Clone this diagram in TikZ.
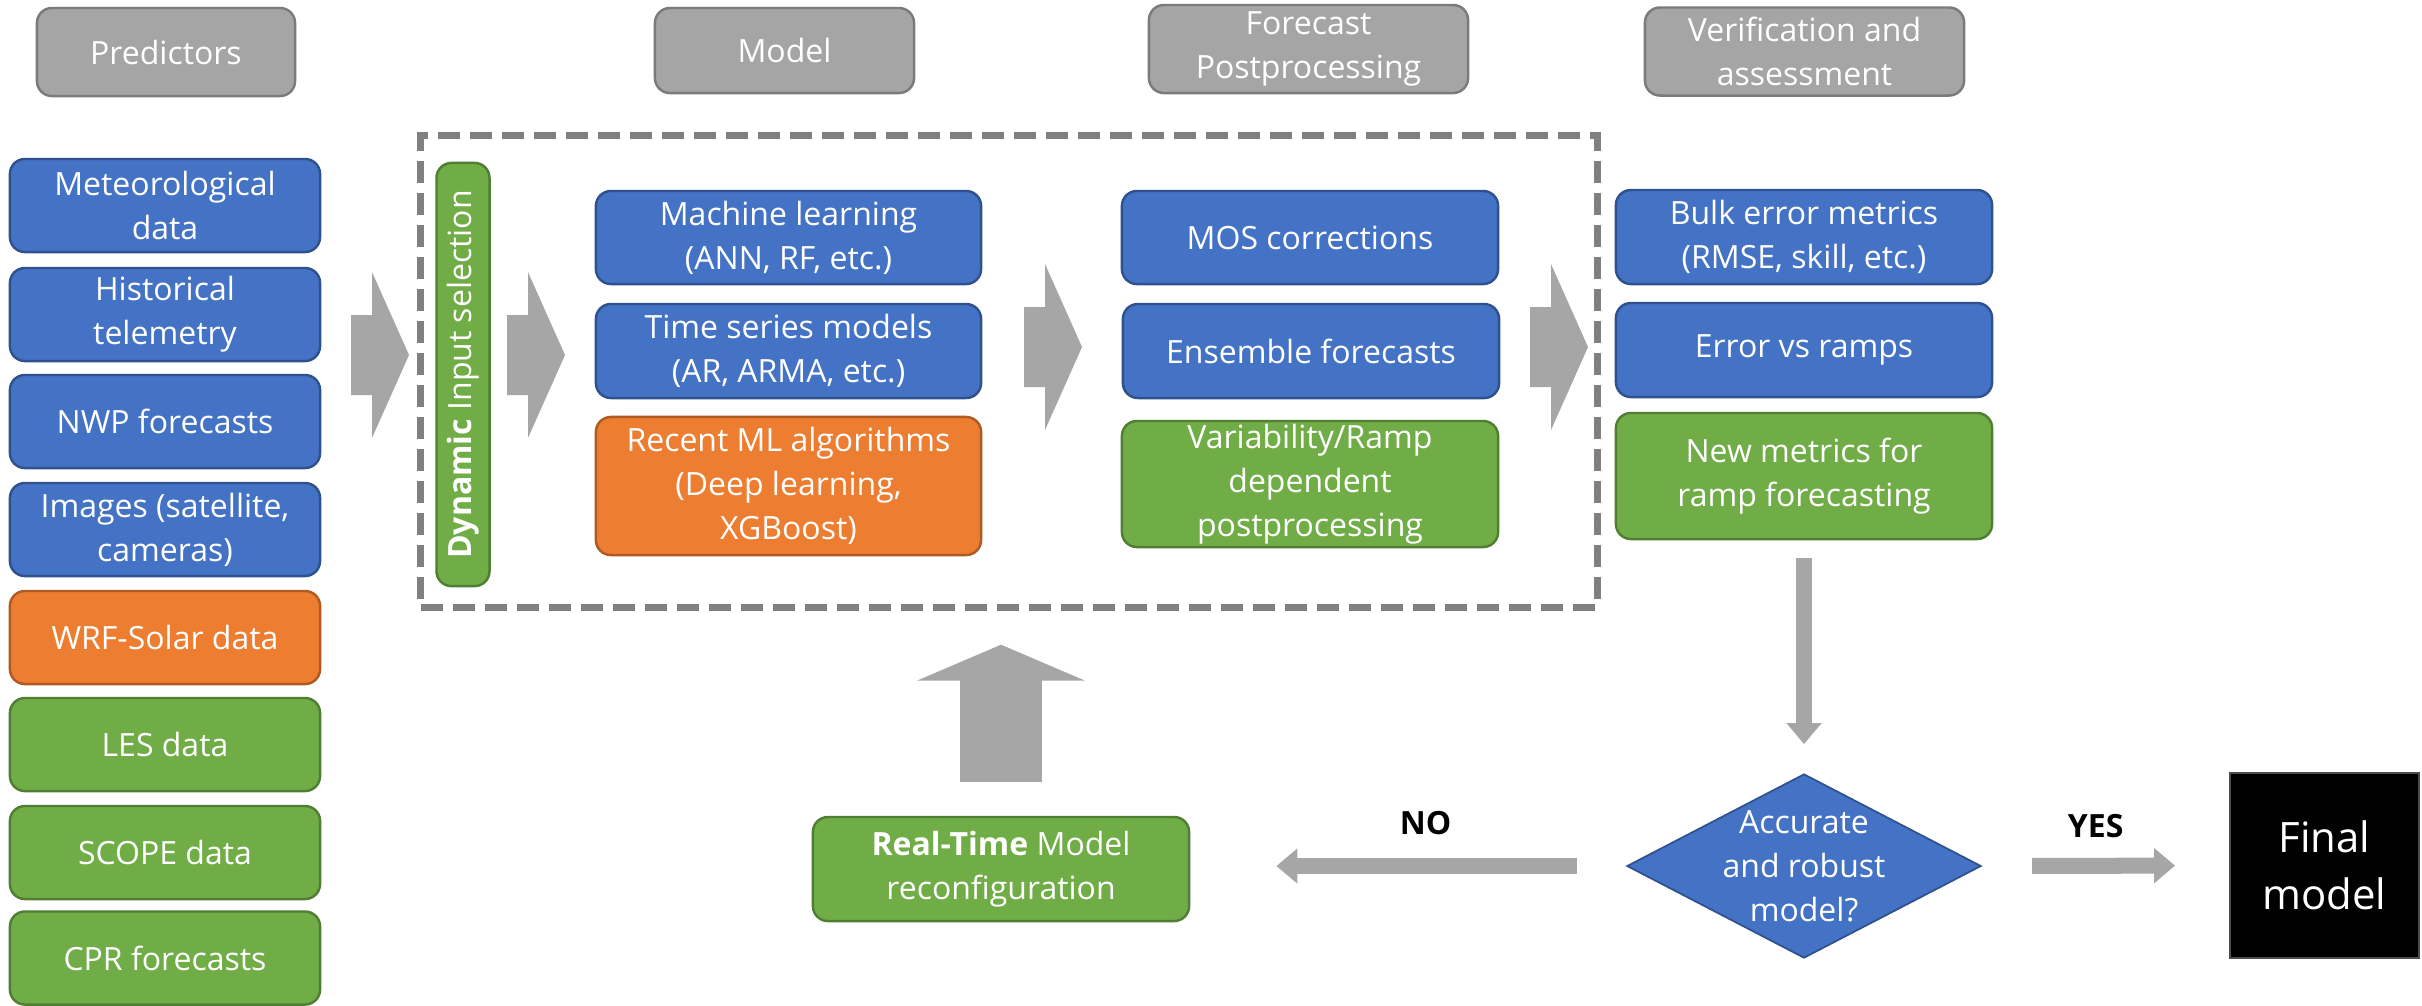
\documentclass[tikz,border=0pt]{standalone}
\usepackage{fontspec}
\setmainfont{Open Sans}
\usetikzlibrary{arrows.meta}
\usetikzlibrary{shapes.geometric}
\definecolor{boxblue}{HTML}{4472C4}
\definecolor{lineblue}{HTML}{2F528F}
\definecolor{boxorange}{HTML}{ED7D31}
\definecolor{lineorange}{HTML}{AE5A21}
\definecolor{boxgreen}{HTML}{70AD47}
\definecolor{linegreen}{HTML}{507E32}
\definecolor{headgray}{HTML}{A5A5A5}
\definecolor{headline}{HTML}{7B7B7B}
\definecolor{arrowgray}{HTML}{A6A6A6}
\definecolor{dashgray}{HTML}{808080}
\newcommand{\fatarrow}[2]{\fill[arrowgray,shift={(#1,#2)}] (0,-40) -- (21,-40) -- (21,-83) -- (58,0) -- (21,83) -- (21,40) -- (0,40) -- cycle;}

\begin{document}
\begin{tikzpicture}[x=0.01cm,y={(0cm,-0.01cm)},
  rbox/.style={rectangle, rounded corners=0.15cm, line width=0.7pt, inner sep=0pt,
    align=center, text=white, font=\fontsize{9.1pt}{12.5pt}\selectfont},
  bluebox/.style={rbox, fill=boxblue, draw=lineblue},
  orangebox/.style={rbox, fill=boxorange, draw=lineorange},
  greenbox/.style={rbox, fill=boxgreen, draw=linegreen},
  headbox/.style={rbox, fill=headgray, draw=headline, minimum height=0.88cm},
  predbox/.style={minimum width=3.1cm, minimum height=0.93cm},
  modbox/.style={minimum width=3.85cm, minimum height=0.93cm},
  postbox/.style={minimum width=3.76cm, minimum height=0.93cm},
  decision/.style={diamond, fill=boxblue, draw=lineblue, line width=0.5pt, inner sep=0pt,
    minimum width=3.54cm, minimum height=1.84cm},
  finalbox/.style={rectangle, fill=black, draw=black!70, line width=0.5pt, text=white,
    align=center, minimum width=1.89cm, minimum height=1.85cm,
    font=\fontsize{11.9pt}{16.2pt}\selectfont},
  answer/.style={text=black, inner sep=0pt, font=\fontsize{9.1pt}{12.5pt}\selectfont\bfseries},
  flowarrow/.style={draw=arrowgray, line width=0.16cm, -{Triangle[width=0.34cm,length=0.21cm]}},
  bigflow/.style={draw=arrowgray, line width=0.81cm, -{Triangle[width=1.67cm,length=0.36cm]}}]
\useasboundingbox (0,0) rectangle (2422,1005);
% headers
\node[headbox, minimum width=2.58cm] (predhead) at (166,52) {Predictors};
\node[headbox, minimum width=2.59cm, minimum height=0.85cm] (modelhead) at (784.5,50.5) {Model};
\node[headbox, minimum width=3.19cm] (posthead) at (1308.5,49) {Forecast\\Postprocessing};
\node[headbox, minimum width=3.19cm] (verifhead) at (1804.5,51.5) {Verification and\\assessment};
% the dashed model area
\node[draw=dashgray, line width=0.07cm, dash pattern=on 0.22cm off 0.10cm,
  minimum width=11.76cm, minimum height=4.71cm] (modelarea) at (1009,371.5) {};
% predictors
\node[bluebox, predbox] (meteo) at (165,205.5) {Meteorological\\data};
\node[bluebox, predbox] (hist) at (165,314.5) {Historical\\telemetry};
\node[bluebox, predbox] (nwp) at (165,421.5) {NWP forecasts};
\node[bluebox, predbox] (images) at (165,529.5) {Images (satellite,\\cameras)};
\node[orangebox, predbox] (wrf) at (165,637.5) {WRF-Solar data};
\node[greenbox, predbox] (les) at (165,744.5) {LES data};
\node[greenbox, predbox] (scope) at (165,852.5) {SCOPE data};
\node[greenbox, predbox] (cpr) at (165,958) {CPR forecasts};
% model
\node[greenbox, rotate=90, minimum width=4.23cm, minimum height=0.53cm] (dyn) at (463,374.5)
  {\textbf{Dynamic} Input selection};
\node[bluebox, modbox] (ml) at (788.5,237.5) {Machine learning\\(ANN, RF, etc.)};
\node[bluebox, modbox, minimum height=0.94cm] (ts) at (788.5,351) {Time series models\\(AR, ARMA, etc.)};
\node[orangebox, modbox, minimum height=1.38cm] (recent) at (788.5,486)
  {Recent ML algorithms\\(Deep learning,\\XGBoost)};
% postprocessing
\node[bluebox, postbox] (mos) at (1310,237.5) {MOS corrections};
\node[bluebox, postbox, minimum height=0.94cm] (ens) at (1311,351) {Ensemble forecasts};
\node[greenbox, postbox, minimum height=1.26cm] (var) at (1310,484)
  {Variability/Ramp\\dependent\\postprocessing};
% verification
\node[bluebox, postbox, minimum height=0.94cm] (bulk) at (1804,237) {Bulk error metrics\\(RMSE, skill, etc.)};
\node[bluebox, postbox, minimum height=0.94cm] (err) at (1804,350) {Error vs ramps};
\node[greenbox, postbox, minimum height=1.26cm] (newm) at (1804,476) {New metrics for\\ramp forecasting};
% bottom row
\node[greenbox, minimum width=3.76cm, minimum height=1.04cm] (rtm) at (1001,869)
  {\textbf{Real-Time} Model\\reconfiguration};
\node[decision] (check) at (1804,866) {};
\node[rbox] (checktext) at (check) {Accurate\\and robust\\model?};
\node[finalbox] (final) at (2324.5,865.5) {Final\\model};
% arrows
\fatarrow{351}{355}
\fatarrow{507}{355}
\fatarrow{1024}{347}
\fatarrow{1530}{347}
\draw[bigflow, shorten <=0.34cm, shorten >=0.34cm] (rtm.north) -- (rtm.north |- modelarea.south);
\draw[flowarrow, shorten <=0.18cm, shorten >=0.29cm] (newm.south) -- (check.north);
\draw[flowarrow, shorten <=0.49cm, shorten >=0.86cm] (check.west) -- (check.west -| rtm.east)
  node[answer, pos=0.46, yshift=0.43cm] (no) {NO};
\draw[flowarrow, shorten <=0.5cm, shorten >=0.54cm] (check.east) -- (final.west)
  node[answer, pos=0.46, yshift=0.40cm] (yes) {YES};
\end{tikzpicture}
\end{document}
